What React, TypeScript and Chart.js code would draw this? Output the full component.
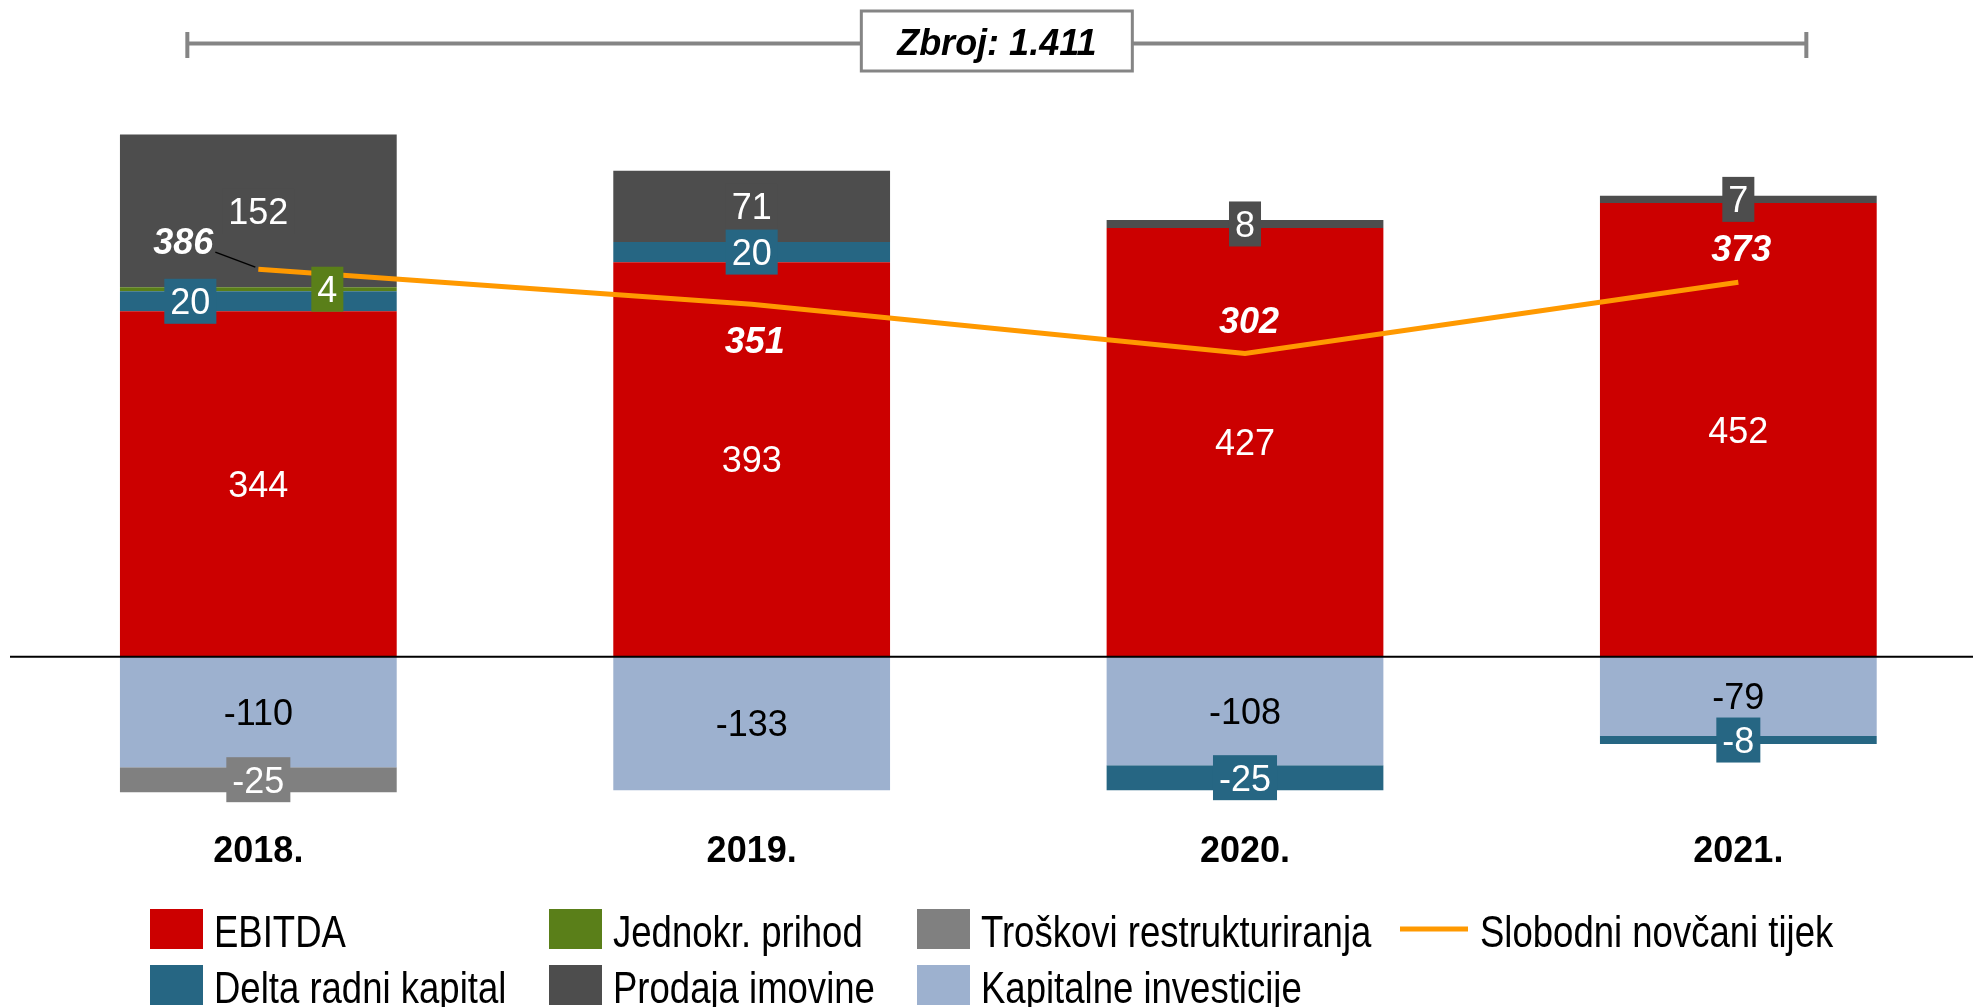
import { useEffect, useRef } from 'react';
import { Chart, registerables } from 'chart.js';

Chart.register(...registerables);

// ---------- data ----------
const categories = ['2018.', '2019.', '2020.', '2021.'];
const ebitda = [344, 393, 427, 452];
const deltaPositive = [20, 20, null, null];
const jednokrPrihod = [4, null, null, null];
const prodajaImovine = [152, 71, 8, 7];
const kapitalneInvesticije = [-110, -133, -108, -79];
const troskoviRestrukturiranja = [-25, null, null, null];
const deltaNegative = [null, null, -25, -8];
const slobodniNovcaniTijek = [386, 351, 302, 373];
const zbroj = 1411;

const seriesNames = [
  'EBITDA',
  'Delta radni kapital',
  'Jednokr. prihod',
  'Prodaja imovine',
  'Troškovi restrukturiranja',
  'Kapitalne investicije',
  'Slobodni novčani tijek',
];

const yMin = -140;
const yMax = 600;

// ---------- styles ----------
const COLORS = {
  ebitda: '#CC0000',
  delta: '#266683',
  jednokr: '#5A7F19',
  prodaja: '#4D4D4D',
  troskovi: '#808080',
  kapitalne: '#9DB1CF',
  fcf: '#FF9900',
};
const FONT = '"Liberation Sans", Arial, Helvetica, sans-serif';
const FS = 36;

// label style per bar dataset (index matches dataset order)
const labelStyles = [
  { color: '#FFFFFF', box: false, dx: [0, 0, 0, 0] },
  { color: '#FFFFFF', box: true, dx: [-68, 0, 0, 0] },
  { color: '#FFFFFF', box: true, dx: [69, 0, 0, 0] },
  { color: '#FFFFFF', box: true, dx: [0, 0, 0, 0] },
  { color: '#000000', box: false, dx: [0, 0, 0, 0] },
  { color: '#FFFFFF', box: true, dx: [0, 0, 0, 0] },
  { color: '#FFFFFF', box: true, dx: [0, 0, 0, 0] },
];
const fcfLabelOffsets = [
  [-75, -28],
  [3, 36],
  [4, -33],
  [3, -34],
];

function formatThousands(n: number) {
  return String(n).replace(/\B(?=(\d{3})+(?!\d))/g, '.');
}

function drawCentered(ctx: CanvasRenderingContext2D, text: string, cx: number, cy: number, font: string, size: number, color: string) {
  ctx.font = font;
  ctx.fillStyle = color;
  ctx.textAlign = 'center';
  ctx.textBaseline = 'alphabetic';
  ctx.fillText(text, cx, cy + size * 0.358);
}

const labelsPlugin = {
  id: 'customLabels',
  afterDatasetsDraw(chart: any) {
    const ctx: CanvasRenderingContext2D = chart.ctx;
    const yScale = chart.scales.y;
    // zero line
    const y0 = yScale.getPixelForValue(0);
    ctx.save();
    ctx.strokeStyle = '#000000';
    ctx.lineWidth = 2;
    ctx.beginPath();
    ctx.moveTo(10, y0);
    ctx.lineTo(chart.width, y0);
    ctx.stroke();

    // bar labels
    const barCount = labelStyles.length;
    for (let i = 0; i < barCount; i++) {
      const ds = chart.data.datasets[i];
      const meta = chart.getDatasetMeta(i);
      const st = labelStyles[i];
      ds.data.forEach((v: number | null, j: number) => {
        if (v === null || v === undefined) return;
        const el = meta.data[j];
        const p = el.getProps(['x', 'y', 'base'], true);
        const cx = p.x + st.dx[j];
        const cy = (p.y + p.base) / 2;
        const text = String(v);
        const font = `${FS}px ${FONT}`;
        ctx.font = font;
        if (st.box) {
          const w = ctx.measureText(text).width + 12;
          const h = 45;
          ctx.fillStyle = ds.backgroundColor;
          ctx.fillRect(cx - w / 2, cy - h / 2, w, h);
        }
        drawCentered(ctx, text, cx, cy, font, FS, st.color);
      });
    }

    // line labels
    const li = chart.data.datasets.length - 1;
    const lmeta = chart.getDatasetMeta(li);
    chart.data.datasets[li].data.forEach((v: number, j: number) => {
      const pt = lmeta.data[j];
      const [dx, dy] = fcfLabelOffsets[j];
      if (j === 0) {
        ctx.strokeStyle = '#000000';
        ctx.lineWidth = 1.5;
        ctx.beginPath();
        ctx.moveTo(pt.x - 43, pt.y - 17);
        ctx.lineTo(pt.x - 3, pt.y - 2);
        ctx.stroke();
      }
      drawCentered(ctx, String(v), pt.x + dx, pt.y + dy, `italic bold ${FS}px ${FONT}`, FS, '#FFFFFF');
    });
    ctx.restore();
  },
  afterDraw(chart: any) {
    const ctx: CanvasRenderingContext2D = chart.ctx;
    const xScale = chart.scales.x;
    const area = chart.chartArea;
    ctx.save();

    // x labels
    categories.forEach((c, i) => {
      drawCentered(ctx, c, xScale.getPixelForValue(i), area.bottom + 52, `bold ${FS}px ${FONT}`, FS, '#000000');
    });

    // bracket with total
    const bl = xScale.getPixelForValue(0) - 71;
    const br = xScale.getPixelForValue(categories.length - 1) + 68;
    const by = 43.5;
    ctx.strokeStyle = '#858585';
    ctx.fillStyle = '#858585';
    ctx.lineWidth = 4;
    ctx.beginPath();
    ctx.moveTo(bl, by);
    ctx.lineTo(br, by);
    ctx.stroke();
    ctx.fillRect(bl - 2, 32, 4, 26);
    ctx.fillRect(br - 2, 32, 4, 26);
    const bcx = (bl + br) / 2;
    const bw = 271;
    ctx.fillStyle = '#FFFFFF';
    ctx.fillRect(bcx - bw / 2, 11, bw, 60);
    ctx.lineWidth = 3;
    ctx.strokeStyle = '#858585';
    ctx.strokeRect(bcx - bw / 2, 11, bw, 60);
    drawCentered(ctx, `Zbroj: ${formatThousands(zbroj)}`, bcx, 42.5, `italic bold ${FS}px ${FONT}`, FS, '#000000');

    // legend
    const LFS = 44;
    const legendItems = [
      { name: seriesNames[0], color: COLORS.ebitda, col: 0, row: 0, line: false },
      { name: seriesNames[1], color: COLORS.delta, col: 0, row: 1, line: false },
      { name: seriesNames[2], color: COLORS.jednokr, col: 1, row: 0, line: false },
      { name: seriesNames[3], color: COLORS.prodaja, col: 1, row: 1, line: false },
      { name: seriesNames[4], color: COLORS.troskovi, col: 2, row: 0, line: false },
      { name: seriesNames[5], color: COLORS.kapitalne, col: 2, row: 1, line: false },
      { name: seriesNames[6], color: COLORS.fcf, col: 3, row: 0, line: true },
    ];
    const colX = [150, 549, 917, 1400];
    const rowY = [929, 985];
    legendItems.forEach((it) => {
      const x = colX[it.col];
      const cy = rowY[it.row];
      let tx;
      if (it.line) {
        ctx.strokeStyle = it.color;
        ctx.lineWidth = 5;
        ctx.beginPath();
        ctx.moveTo(x, cy);
        ctx.lineTo(x + 68, cy);
        ctx.stroke();
        tx = x + 80;
      } else {
        ctx.fillStyle = it.color;
        ctx.fillRect(x, cy - 20, 53, 40);
        tx = x + 64;
      }
      ctx.save();
      ctx.translate(tx, cy + 2 + LFS * 0.358);
      ctx.scale(0.83, 1);
      ctx.font = `${LFS}px ${FONT}`;
      ctx.fillStyle = '#000000';
      ctx.textAlign = 'left';
      ctx.textBaseline = 'alphabetic';
      ctx.fillText(it.name, 0, 0);
      ctx.restore();
    });

    ctx.restore();
  },
};

export default function App() {
  const ref = useRef<HTMLCanvasElement>(null);

  useEffect(() => {
    const barDs = (label: string, data: (number | null)[], color: string) => ({
      type: 'bar' as const,
      label,
      data,
      backgroundColor: color,
      borderWidth: 0,
      stack: 'main',
      order: 0,
      barPercentage: 0.561,
      categoryPercentage: 1,
    });
    const zeroY = 656.7;
    const k = 1.004;
    const chart = new Chart(ref.current as HTMLCanvasElement, {
      type: 'bar',
      data: {
        labels: categories,
        datasets: [
          barDs(seriesNames[0], ebitda, COLORS.ebitda),
          barDs(seriesNames[1], deltaPositive, COLORS.delta),
          barDs(seriesNames[2], jednokrPrihod, COLORS.jednokr),
          barDs(seriesNames[3], prodajaImovine, COLORS.prodaja),
          barDs(seriesNames[5], kapitalneInvesticije, COLORS.kapitalne),
          barDs(seriesNames[4], troskoviRestrukturiranja, COLORS.troskovi),
          barDs(seriesNames[1], deltaNegative, COLORS.delta),
          {
            type: 'line' as const,
            label: seriesNames[6],
            data: slobodniNovcaniTijek,
            borderColor: COLORS.fcf,
            backgroundColor: COLORS.fcf,
            borderWidth: 5,
            pointRadius: 0,
            tension: 0,
            fill: false,
            stack: 'fcf',
            order: -1,
          } as any,
        ],
      },
      options: {
        responsive: false,
        animation: false,
        devicePixelRatio: 1,
        layout: {
          padding: {
            left: 11.67,
            right: 5,
            top: zeroY - yMax * k,
            bottom: 1007 - (zeroY - yMin * k),
          },
        },
        plugins: {
          legend: { display: false },
          tooltip: { enabled: false },
          title: { display: false },
        },
        scales: {
          x: { type: 'category', stacked: true, display: false, offset: true, grid: { display: false } },
          y: { stacked: true, display: false, min: yMin, max: yMax, grid: { display: false } },
        },
      },
      plugins: [labelsPlugin],
    } as any);
    return () => chart.destroy();
  }, []);

  return (
    <div
      style={{
        position: 'fixed',
        left: 0,
        top: 0,
        width: 1973,
        height: 1007,
        overflow: 'hidden',
        background: '#FFFFFF',
      }}
    >
      <canvas ref={ref} width={1990} height={1007} style={{ display: 'block', width: 1990, height: 1007 }} />
    </div>
  );
}
